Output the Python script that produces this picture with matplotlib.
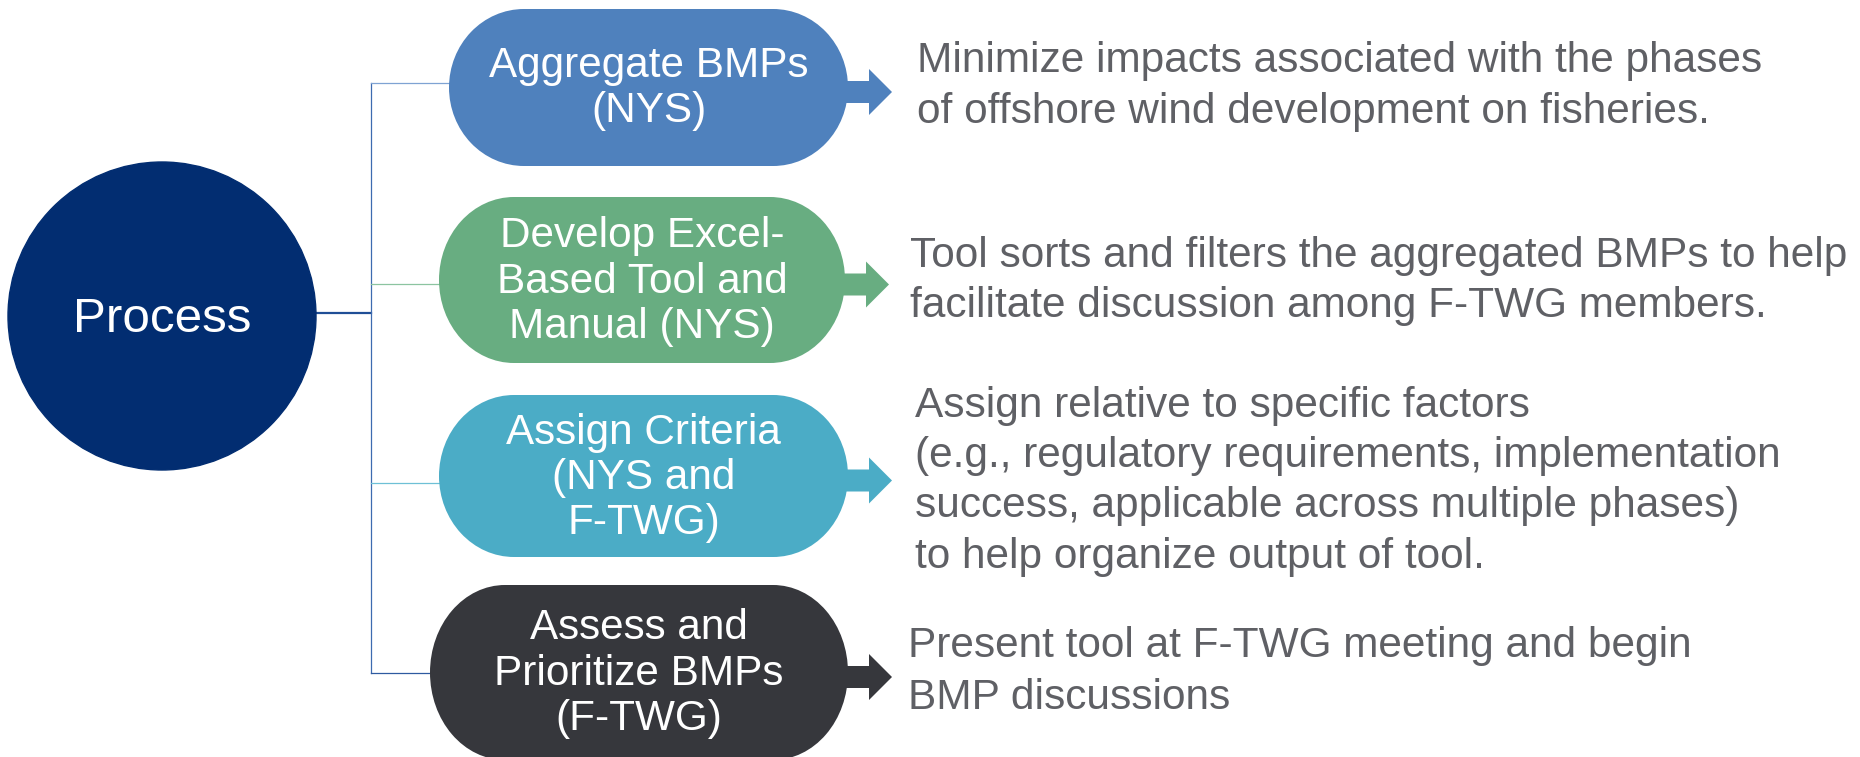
import matplotlib.pyplot as plt
from matplotlib.patches import Circle, Ellipse, Rectangle, Polygon

# ---- content ----
center_label = "Process"
step_labels = [
    ["Aggregate BMPs", "(NYS)"],
    ["Develop Excel-", "Based Tool and", "Manual (NYS)"],
    ["Assign Criteria", "(NYS and", "F-TWG)"],
    ["Assess and", "Prioritize BMPs", "(F-TWG)"],
]
step_descriptions = [
    ["Minimize impacts associated with the phases",
     "of offshore wind development on fisheries."],
    ["Tool sorts and filters the aggregated BMPs to help",
     "facilitate discussion among F-TWG members."],
    ["Assign relative to specific factors",
     "(e.g., regulatory requirements, implementation",
     "success, applicable across multiple phases)",
     "to help organize output of tool."],
    ["Present tool at F-TWG meeting and begin",
     "BMP discussions"],
]
step_colors = ["#4F81BD", "#68AD81", "#4BACC6", "#36373C"]
link_colors = ["#7FA3D3", "#8CC4A0", "#6EC0D6", "#2E5AA0"]
circle_color = "#022D71"
desc_color = "#5F6065"

# ---- layout (pixel space, y downwards) ----
W, H = 1860, 757
circle_xy, circle_r = (162, 316), 154
pill_left = [449, 439, 439, 430]
pill_right = [848, 845, 848, 848]
pill_top = [9, 197, 395, 585]
pill_bottom = [166, 363, 557, 760]
pill_rx = 75
link_y = [83, 284, 483, 673]
trunk_x = 371
label_baselines = [[77, 122], [247, 293, 338], [444, 489, 534], [639, 685, 730]]
desc_x = [917, 910, 915, 908]
desc_baselines = [[72, 123], [267, 317], [417, 467, 517, 568], [657, 709]]

FONT = ["Liberation Sans", "DejaVu Sans"]

fig = plt.figure(figsize=(W / 100, H / 100), dpi=100)
ax = fig.add_axes([0, 0, 1, 1])
ax.set_xlim(0, W)
ax.set_ylim(H, 0)
ax.axis("off")

# connectors
ax.plot([circle_xy[0] + circle_r - 2, trunk_x], [313, 313], color="#1F4E96", lw=1.6, zorder=1)
ax.plot([trunk_x, trunk_x], [link_y[0], link_y[-1]], color="#3D6BB0", lw=0.9, zorder=1)
for i, y in enumerate(link_y):
    ax.plot([trunk_x, pill_left[i] + 10], [y, y], color=link_colors[i], lw=0.9, zorder=1)

# centre circle
ax.add_patch(Circle(circle_xy, circle_r, color=circle_color, zorder=2))
ax.text(circle_xy[0], 332, center_label, color="white", fontsize=35.6,
        family=FONT, ha="center", va="baseline", zorder=3)

for i in range(len(step_labels)):
    x0, x1 = pill_left[i], pill_right[i]
    y0, y1 = pill_top[i], pill_bottom[i]
    h = y1 - y0
    yc = (y0 + y1) / 2
    col = step_colors[i]

    # arrow pointing to the description
    a0 = x1 - 12
    ab = x1 + 21
    tip = x1 + 44
    ay = yc + 4.5
    ax.add_patch(Polygon([(a0, ay - 11), (ab, ay - 11), (ab, ay - 23), (tip, ay),
                          (ab, ay + 23), (ab, ay + 11), (a0, ay + 11)],
                         closed=True, color=col, lw=0, zorder=2))

    # pill: rectangle with elliptical ends
    ax.add_patch(Rectangle((x0 + pill_rx, y0), x1 - x0 - 2 * pill_rx, h, color=col, lw=0, zorder=2))
    ax.add_patch(Ellipse((x0 + pill_rx, yc), 2 * pill_rx, h, color=col, lw=0, zorder=2))
    ax.add_patch(Ellipse((x1 - pill_rx, yc), 2 * pill_rx, h, color=col, lw=0, zorder=2))

    xm = (x0 + x1) / 2
    for line, yb in zip(step_labels[i], label_baselines[i]):
        ax.text(xm, yb, line, color="white", fontsize=30.4, family=FONT,
                ha="center", va="baseline", zorder=3)

    for line, yb in zip(step_descriptions[i], desc_baselines[i]):
        ax.text(desc_x[i], yb, line, color=desc_color, fontsize=30.5, family=FONT,
                ha="left", va="baseline", zorder=3)

fig.savefig("out.png", dpi=100, facecolor="white")
